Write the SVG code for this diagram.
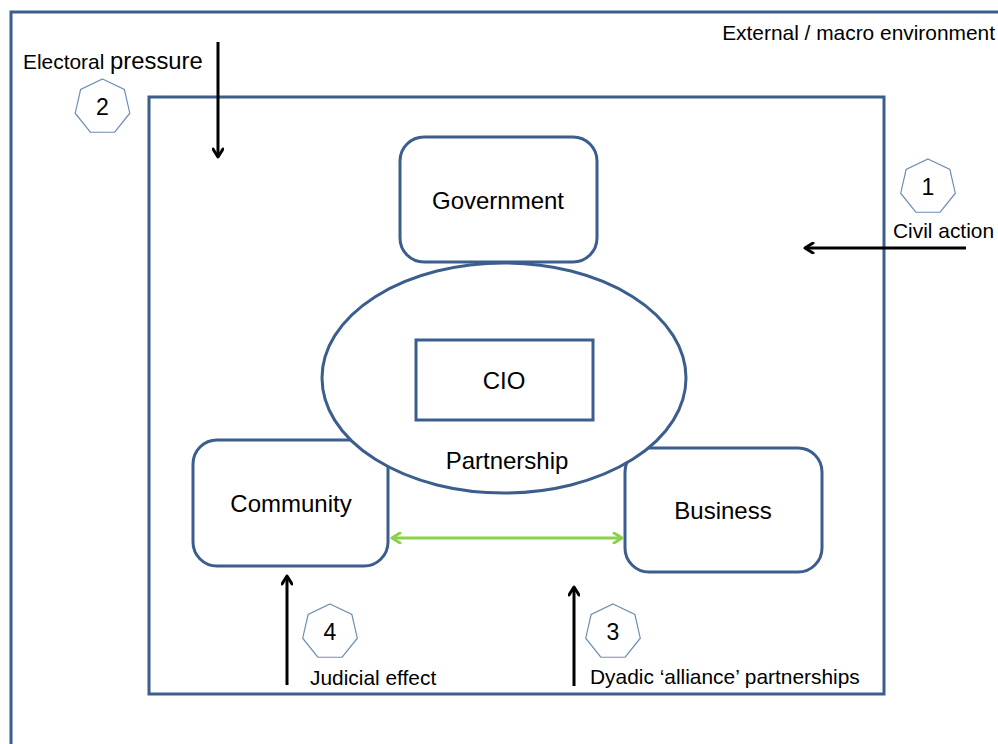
<svg xmlns="http://www.w3.org/2000/svg" width="998" height="744" viewBox="0 0 998 744">
<style>
.frame{fill:none;stroke:#3b5e8c;stroke-width:3}
.box{fill:#fff;stroke:#3b5e8c;stroke-width:3}
.hept{fill:#fff;stroke:#6f8db5;stroke-width:1.2}
.lbl{font-family:"Liberation Sans",Arial,sans-serif;fill:#000}
.big{font-size:24px}
.num{font-size:23px}
.sm{font-size:20.9px}
.arr{stroke:#000;stroke-width:3;fill:none}
.grn{stroke:#8cd14a;stroke-width:3;fill:none}
</style>
<defs>
<polygon id="hept" points="0,-28 21.89,-17.46 27.3,6.23 12.15,25.23 -12.15,25.23 -27.3,6.23 -21.89,-17.46"/>
<marker id="ah" viewBox="0 0 12 12" refX="10" refY="6" markerWidth="12" markerHeight="12" markerUnits="userSpaceOnUse" orient="auto-start-reverse">
<path d="M2,1 L10,6 L2,11" fill="none" stroke="#000" stroke-width="3" stroke-linecap="round" stroke-linejoin="round"/>
</marker>
<marker id="gh" viewBox="0 0 12 12" refX="10" refY="6" markerWidth="12" markerHeight="12" markerUnits="userSpaceOnUse" orient="auto-start-reverse">
<path d="M2,1 L10,6 L2,11" fill="none" stroke="#8cd14a" stroke-width="3" stroke-linecap="round" stroke-linejoin="round"/>
</marker>
</defs>
<rect width="998" height="744" fill="#fff"/>
<g id="external">
<rect class="frame" x="11" y="12" width="1000" height="760"/>
<text class="lbl sm" x="995" y="40" text-anchor="end">External / macro environment</text>
</g>
<g id="inner">
<rect class="frame" x="149" y="97" width="735" height="597"/>
</g>
<g id="government">
<rect class="box" x="400" y="137" width="197" height="125" rx="24"/>
<text class="lbl big" x="498" y="209" text-anchor="middle">Government</text>
</g>
<g id="community">
<rect class="box" x="193" y="440" width="195" height="126" rx="24"/>
<text class="lbl big" x="291" y="512" text-anchor="middle">Community</text>
</g>
<g id="business">
<rect class="box" x="625" y="448" width="197" height="124" rx="24"/>
<text class="lbl big" x="723" y="519" text-anchor="middle">Business</text>
</g>
<g id="partnership">
<ellipse class="box" cx="504" cy="378" rx="182" ry="115"/>
<text class="lbl big" x="507" y="469" text-anchor="middle">Partnership</text>
</g>
<g id="cio">
<rect class="box" x="416" y="340" width="177" height="80"/>
<text class="lbl big" x="504" y="389" text-anchor="middle">CIO</text>
</g>
<g id="connectors">
<line class="arr" x1="218" y1="42" x2="218" y2="157" marker-end="url(#ah)"/>
<line class="arr" x1="966" y1="248" x2="805" y2="248" marker-end="url(#ah)"/>
<line class="arr" x1="287" y1="685" x2="287" y2="576" marker-end="url(#ah)"/>
<line class="arr" x1="574" y1="686" x2="574" y2="587" marker-end="url(#ah)"/>
<line class="grn" x1="392" y1="538" x2="622" y2="538" marker-start="url(#gh)" marker-end="url(#gh)"/>
</g>
<g id="electoral">
<text class="lbl" x="23" y="69"><tspan font-size="20.9">Electoral </tspan><tspan font-size="23.8">pressure</tspan></text>
<use href="#hept" class="hept" x="102.5" y="107"/>
<text class="lbl num" x="102.5" y="115" text-anchor="middle">2</text>
</g>
<g id="civil">
<use href="#hept" class="hept" x="928" y="187"/>
<text class="lbl num" x="928" y="195" text-anchor="middle">1</text>
<text class="lbl sm" x="893" y="238">Civil action</text>
</g>
<g id="judicial">
<use href="#hept" class="hept" x="330" y="632"/>
<text class="lbl num" x="330" y="640" text-anchor="middle">4</text>
<text class="lbl sm" x="310" y="685">Judicial effect</text>
</g>
<g id="dyadic">
<use href="#hept" class="hept" x="613" y="632"/>
<text class="lbl num" x="613" y="640" text-anchor="middle">3</text>
<text class="lbl sm" x="590" y="684">Dyadic ‘alliance’ partnerships</text>
</g>
</svg>
